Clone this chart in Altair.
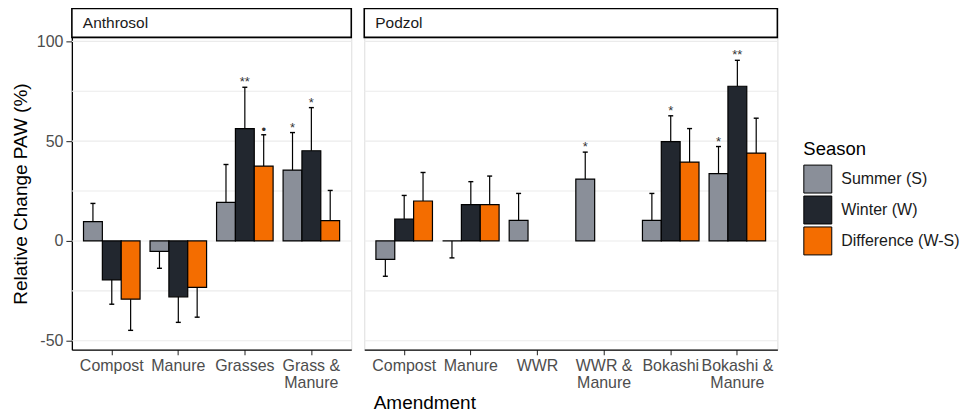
import altair as alt
import pandas as pd

SEASONS = ["Summer (S)", "Winter (W)", "Difference (W-S)"]
COLORS = ["#8A8F99", "#22272F", "#F46D00"]

# Anthrosol
ANTH_AMEND = ["Compost", "Manure", "Grasses", "Grass & Manure"]
ANTH_SUMMER = [9.7, -5.2, 19.3, 35.5]
ANTH_SUMMER_ERR = [18.8, -13.7, 38.3, 54.3]
ANTH_SUMMER_SIG = ["", "", "", "*"]
ANTH_WINTER = [-19.5, -28.0, 56.3, 45.2]
ANTH_WINTER_ERR = [-31.7, -40.8, 77.0, 66.8]
ANTH_WINTER_SIG = ["", "", "**", "*"]
ANTH_DIFF = [-29.2, -23.3, 37.5, 10.2]
ANTH_DIFF_ERR = [-44.8, -38.2, 53.2, 25.3]
ANTH_DIFF_SIG = ["", "", "•", ""]

# Podzol
POD_AMEND = ["Compost", "Manure", "WWR", "WWR & Manure", "Bokashi", "Bokashi & Manure"]
POD_SUMMER = [-9.2, 0.0, 10.3, 31.0, 10.3, 33.7]
POD_SUMMER_ERR = [-17.7, -8.5, 23.8, 44.5, 23.8, 47.3]
POD_SUMMER_SIG = ["", "", "", "*", "", "*"]
POD_WINTER = [11.0, 18.2, None, None, 49.8, 77.5]
POD_WINTER_ERR = [22.8, 29.7, None, None, 62.7, 90.5]
POD_WINTER_SIG = ["", "", "", "", "*", "**"]
POD_DIFF = [20.0, 18.2, None, None, 39.5, 44.0]
POD_DIFF_ERR = [34.3, 32.5, None, None, 56.3, 61.5]
POD_DIFF_SIG = ["", "", "", "", "", ""]

GRID = [-50, -25, 0, 25, 50, 75, 100]
Y_TICKS = [-50, 0, 50, 100]


def build(amends, series):
    rows = []
    for season, vals, errs, sigs in series:
        for a, v, e, s in zip(amends, vals, errs, sigs):
            if v is None:
                continue
            rows.append({"Amendment": a, "Season": season, "value": v, "err": e, "sig": s})
    return pd.DataFrame(rows)


anth_df = build(ANTH_AMEND, [
    (SEASONS[0], ANTH_SUMMER, ANTH_SUMMER_ERR, ANTH_SUMMER_SIG),
    (SEASONS[1], ANTH_WINTER, ANTH_WINTER_ERR, ANTH_WINTER_SIG),
    (SEASONS[2], ANTH_DIFF, ANTH_DIFF_ERR, ANTH_DIFF_SIG),
])
pod_df = build(POD_AMEND, [
    (SEASONS[0], POD_SUMMER, POD_SUMMER_ERR, POD_SUMMER_SIG),
    (SEASONS[1], POD_WINTER, POD_WINTER_ERR, POD_WINTER_SIG),
    (SEASONS[2], POD_DIFF, POD_DIFF_ERR, POD_DIFF_SIG),
])

YDOM = [-54.5, 102]
H = 313
FONT = "Liberation Sans"
LABEL_EXPR = "split(replace(datum.label, ' & ', ' &|'), '|')"

color = alt.Color(
    "Season:N",
    scale=alt.Scale(domain=SEASONS, range=COLORS),
    legend=alt.Legend(
        title="Season", orient="none", legendX=733, legendY=103,
        titleFontSize=18.5, titleFontWeight="normal", titleColor="#000000",
        titleFont=FONT, titlePadding=6,
        labelFontSize=16, labelFont=FONT, labelColor="#1A1A1A", labelOffset=9,
        symbolType="square", symbolSize=784, symbolStrokeColor="#000000",
        symbolStrokeWidth=1, symbolOpacity=1, rowPadding=-4,
    ),
)


def panel(df, amends, name, width, show_y, x_title):
    yaxis = alt.Axis(
        values=Y_TICKS, grid=False, title="Relative Change PAW (%)",
        labelExpr="datum.value + ''",
        titleFontSize=19, titleFontWeight="normal", titleColor="#000000", titleFont=FONT,
        titlePadding=6, labelFontSize=16, labelColor="#4D4D4D", labelFont=FONT,
        labelPadding=3, tickSize=6, tickColor="#333333", tickWidth=1.1,
        domainColor="#000000", domainWidth=1.3,
    ) if show_y else None
    y = alt.Y("value:Q", scale=alt.Scale(domain=YDOM, nice=False, zero=False), axis=yaxis)
    xaxis = alt.Axis(
        title=x_title if x_title else None, labelAngle=0, labelExpr=LABEL_EXPR,
        labelFontSize=16, labelColor="#4D4D4D", labelFont=FONT, labelLineHeight=17,
        labelPadding=3, tickSize=5, tickColor="#333333", tickWidth=1.1,
        domainColor="#000000", domainWidth=1.3,
        titleFontSize=19, titleFontWeight="normal", titleColor="#000000", titleFont=FONT,
        titleAnchor="start", titleAlign="left", titleX=9, titlePadding=3,
    )
    x = alt.X("Amendment:N", sort=amends,
              scale=alt.Scale(domain=amends, paddingInner=0.15, paddingOuter=0.175),
              axis=xaxis)
    xo = alt.XOffset("Season:N", scale=alt.Scale(domain=SEASONS, paddingInner=0, paddingOuter=0),
                     sort=SEASONS)

    grid = alt.Chart(pd.DataFrame({"g": GRID})).mark_rule(color="#EBEBEB", strokeWidth=1.1).encode(
        y=alt.Y("g:Q", scale=alt.Scale(domain=YDOM, nice=False, zero=False), axis=yaxis)
    )
    base = alt.Chart(df)
    bars = base.mark_bar(stroke="#000000", strokeWidth=1.2, opacity=1).encode(
        x=x, xOffset=xo, y=y, color=color
    )
    rules = base.mark_rule(color="#000000", strokeWidth=1.2).encode(
        x=x, xOffset=xo, y=y, y2="err:Q"
    )
    caps = base.mark_tick(color="#000000", size=5, thickness=1.4, opacity=1).encode(
        x=x, xOffset=xo, y=alt.Y("err:Q")
    )
    stars = base.mark_text(fontSize=13, font=FONT, color="#333333", baseline="alphabetic", dy=-1).encode(
        x=x, xOffset=xo, y=alt.Y("err:Q"), text="sig:N"
    )
    sdf = pd.DataFrame({"name": [name]})
    strip = alt.Chart(sdf).mark_rect(fill="#FFFFFF", stroke="#000000", strokeWidth=1.6).encode(
        x=alt.value(0), x2=alt.value(width), y=alt.value(-29), y2=alt.value(0)
    )
    strip_text = alt.Chart(sdf).mark_text(align="left", baseline="middle", fontSize=15.5,
                                          font=FONT, color="#1A1A1A").encode(
        x=alt.value(11), y=alt.value(-14.5), text="name:N"
    )
    return alt.layer(grid, bars, rules, caps, stars, strip, strip_text).properties(
        width=width, height=H
    )


left = panel(anth_df, ANTH_AMEND, "Anthrosol", 280, True, None)
right = panel(pod_df, POD_AMEND, "Podzol", 414, False, "Amendment")

chart = alt.hconcat(left, right, spacing=9).resolve_scale(
    x="independent", y="shared", color="shared"
).configure_view(stroke=None).configure(
    padding={"left": 2, "top": -2, "right": 0, "bottom": 0}, background="#FFFFFF"
)

chart.save("out.html", embed_options={"renderer": "svg", "actions": False})
